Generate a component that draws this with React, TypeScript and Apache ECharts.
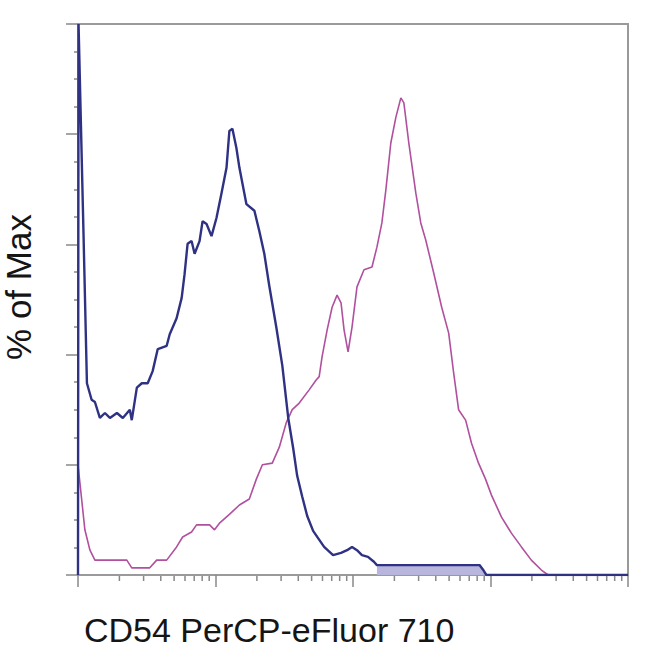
import React, { useEffect, useRef } from "react";
import * as echarts from "echarts";

// x in decades of log10 intensity, y in % of Max
const blueSeries: [number, number][] = [
  [0, 0], [0.004, 100], [0.04, 62], [0.065, 34.8], [0.099, 31.8], [0.123, 31.4],
  [0.159, 28.5], [0.196, 29.4], [0.232, 28.5], [0.283, 29.4], [0.326, 28.5],
  [0.377, 30.0], [0.391, 28.1], [0.428, 34.0], [0.464, 34.8], [0.507, 34.8],
  [0.543, 37.0], [0.58, 41.0], [0.645, 41.6], [0.667, 43.7], [0.717, 46.6],
  [0.754, 50.3], [0.775, 54.6], [0.797, 60.1], [0.826, 60.6], [0.848, 58.3],
  [0.884, 60.6], [0.906, 64.2], [0.935, 63.7], [0.971, 61.5], [1.007, 64.8],
  [1.043, 69.2], [1.08, 73.9], [1.101, 80.6], [1.123, 81.0], [1.152, 77.5],
  [1.174, 73.9], [1.225, 67.3], [1.283, 66.1], [1.319, 62.4], [1.355, 58.3],
  [1.391, 52.5], [1.442, 45.0], [1.486, 38.0], [1.529, 28.5], [1.565, 23.0],
  [1.594, 18.0], [1.63, 14.3], [1.667, 10.7], [1.71, 8.0], [1.746, 6.7],
  [1.79, 5.1], [1.855, 3.6], [1.913, 4.0], [1.957, 4.5], [1.993, 5.1],
  [2.029, 4.5], [2.065, 3.6], [2.109, 3.3], [2.152, 2.4], [2.174, 1.8],
  [2.92, 1.8], [2.95, 0.8], [2.97, 0], [4, 0],
];

const blueTail: [number, number][] = [
  [2.174, 1.8], [2.92, 1.8], [2.95, 0.8], [2.97, 0],
];

const magentaSeries: [number, number][] = [
  [0, 20.0], [0.05, 8.2], [0.087, 4.5], [0.123, 2.7], [0.355, 2.7], [0.391, 1.3],
  [0.522, 1.3], [0.572, 2.7], [0.645, 2.7], [0.717, 5.1], [0.761, 6.9],
  [0.826, 7.8], [0.862, 9.1], [0.957, 9.1], [0.993, 8.2], [1.029, 9.4],
  [1.101, 11.0], [1.174, 12.7], [1.246, 13.8], [1.297, 17.4], [1.341, 20.0],
  [1.413, 20.3], [1.464, 23.2], [1.514, 27.6], [1.558, 30.0], [1.609, 31.2],
  [1.681, 33.6], [1.732, 35.4], [1.754, 36.0], [1.775, 39.6], [1.812, 44.5],
  [1.848, 48.6], [1.884, 50.8], [1.913, 49.4], [1.935, 44.5], [1.964, 40.5],
  [1.993, 45.0], [2.029, 52.3], [2.08, 55.4], [2.138, 55.9], [2.174, 59.5],
  [2.21, 63.9], [2.239, 69.9], [2.275, 78.4], [2.312, 83.1], [2.348, 86.6],
  [2.37, 85.7], [2.406, 78.4], [2.457, 69.3], [2.493, 63.9], [2.529, 60.8],
  [2.587, 54.8], [2.645, 48.6], [2.696, 43.9], [2.732, 36.7], [2.768, 30.0],
  [2.819, 28.1], [2.862, 23.9], [2.913, 20.3], [2.964, 17.4], [3.007, 14.5],
  [3.08, 10.5], [3.152, 7.6], [3.225, 5.1], [3.297, 2.7], [3.37, 0.9],
  [3.42, 0], [4, 0],
];

const decades = [0, 1, 2, 3];
const minorMultipliers = [2, 3, 4, 5, 6, 7, 8, 9];

const xTitle = "CD54 PerCP-eFluor 710";
const yTitle = "% of Max";

export default function App() {
  const ref = useRef<HTMLDivElement>(null);

  useEffect(() => {
    if (!ref.current) return;
    const chart = echarts.init(ref.current, null, { renderer: "svg" });
    const minorTicks: [number, number][] = [];
    decades.forEach((d) =>
      minorMultipliers.forEach((k) => minorTicks.push([d + Math.log10(k), 0]))
    );
    const axisGray = "#9a9a9a";
    chart.setOption({
      animation: false,
      backgroundColor: "#ffffff",
      grid: {
        left: 78,
        right: 22,
        top: 24,
        bottom: 75,
        show: true,
        borderColor: axisGray,
        borderWidth: 2,
        containLabel: false,
      },
      xAxis: {
        type: "value",
        min: 0,
        max: 4,
        interval: 1,
        axisLine: { show: true, lineStyle: { color: axisGray, width: 2 } },
        axisTick: { show: true, length: 12, inside: false, lineStyle: { color: "#888", width: 1.5 } },
        axisLabel: { show: false },
        splitLine: { show: false },
      },
      yAxis: {
        type: "value",
        min: 0,
        max: 100,
        interval: 20,
        axisLine: { show: true, lineStyle: { color: axisGray, width: 2 } },
        axisTick: { show: true, length: 12, lineStyle: { color: "#888", width: 1.5 } },
        minorTick: { show: true, splitNumber: 4, length: 4, lineStyle: { color: "#888", width: 1.5 } },
        axisLabel: { show: false },
        splitLine: { show: false },
      },
      graphic: [
        {
          type: "text",
          x: 84,
          y: 630,
          style: {
            text: xTitle,
            font: "34px 'Liberation Sans', Arial, sans-serif",
            fill: "#151515",
            textAlign: "left",
            textVerticalAlign: "middle",
          },
        },
        {
          type: "text",
          x: 18,
          y: 287,
          rotation: Math.PI / 2,
          style: {
            text: yTitle,
            font: "35px 'Liberation Sans', Arial, sans-serif",
            fill: "#151515",
            textAlign: "center",
            textVerticalAlign: "middle",
          },
        },
      ],
      series: [
        {
          type: "line",
          data: blueTail,
          showSymbol: false,
          lineStyle: { width: 0 },
          areaStyle: { color: "#b8b6dc", opacity: 1 },
          silent: true,
          z: 1,
        },
        {
          type: "line",
          name: "magenta",
          data: magentaSeries,
          showSymbol: false,
          lineStyle: { color: "#b0509e", width: 1.6 },
          silent: true,
          z: 2,
        },
        {
          type: "line",
          name: "blue",
          data: blueSeries,
          showSymbol: false,
          lineStyle: { color: "#2f3283", width: 2.4 },
          silent: true,
          z: 3,
        },
        {
          type: "custom",
          data: minorTicks,
          silent: true,
          clip: false,
          encode: { x: 0, y: 1 },
          renderItem: (params: any, api: any) => {
            const p = api.coord([api.value(0), 0]);
            return {
              type: "line",
              shape: { x1: p[0], y1: p[1] + 1, x2: p[0], y2: p[1] + 6 },
              style: { stroke: "#888", lineWidth: 1.5 },
            };
          },
          z: 4,
        },
      ],
    });
    return () => chart.dispose();
  }, []);

  return (
    <div
      ref={ref}
      style={{ position: "fixed", left: 0, top: 0, width: 650, height: 650 }}
    />
  );
}
